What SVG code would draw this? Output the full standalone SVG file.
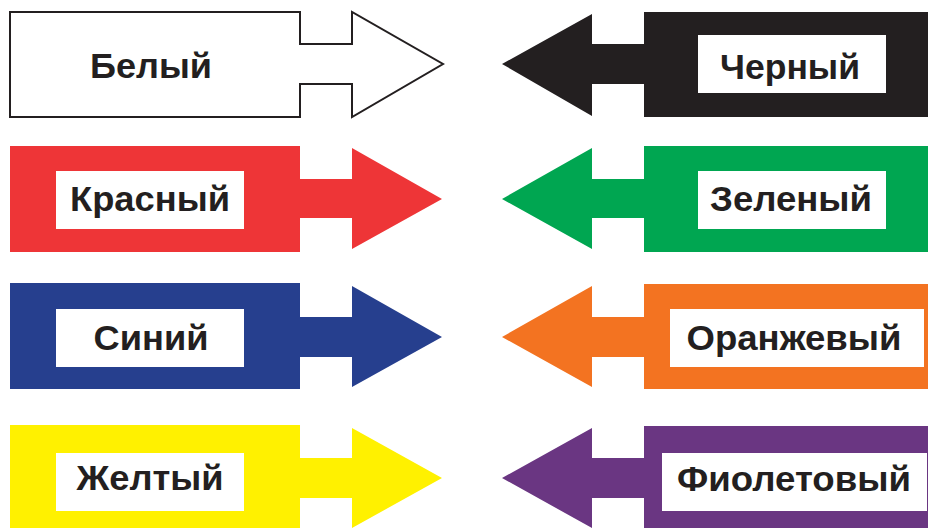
<svg xmlns="http://www.w3.org/2000/svg" width="929" height="528" viewBox="0 0 929 528">
<style>
.lbl{font-family:"Liberation Sans",Arial,sans-serif;font-weight:bold;font-size:35px;fill:#231F20;text-anchor:middle}
.box{fill:#FFFFFF}
</style>
<rect width="929" height="528" fill="#FFFFFF"/>
<g id="white">
<polygon points="10,12 300,12 300,44 352,44 352,12 443,64 352,117 352,84 300,84 300,117 10,117" fill="#FFFFFF" stroke="#231F20" stroke-width="2"/>
<text class="lbl" x="151" y="78" textLength="122" lengthAdjust="spacingAndGlyphs">Белый</text>
</g>
<g id="red">
<polygon points="10,146 300,146 300,179 352,179 352,148 442,199 352,249 352,218 300,218 300,252 10,252" fill="#EE3537"/>
<rect class="box" x="56" y="171" width="188" height="58"/>
<text class="lbl" x="150" y="211" textLength="160" lengthAdjust="spacingAndGlyphs">Красный</text>
</g>
<g id="blue">
<polygon points="10,283 300,283 300,317 352,317 352,286 442,337 352,387 352,357 300,357 300,389 10,389" fill="#263F8E"/>
<rect class="box" x="56" y="309" width="188" height="58"/>
<text class="lbl" x="151" y="350" textLength="115" lengthAdjust="spacingAndGlyphs">Синий</text>
</g>
<g id="yellow">
<polygon points="10,425 300,425 300,458 352,458 352,428 442,478 352,528 352,498 300,498 300,528 10,528" fill="#FFF100"/>
<rect class="box" x="56" y="453" width="188" height="58"/>
<text class="lbl" x="150" y="490" textLength="147" lengthAdjust="spacingAndGlyphs">Желтый</text>
</g>
<g id="black">
<polygon points="928,12 644,12 644,44 592,44 592,14 502,64 592,116 592,84 644,84 644,117 928,117" fill="#231F20"/>
<rect class="box" x="698" y="35" width="188" height="58"/>
<text class="lbl" x="790" y="79" textLength="140" lengthAdjust="spacingAndGlyphs">Черный</text>
</g>
<g id="green">
<polygon points="928,146 644,146 644,179 592,179 592,148 502,199 592,249 592,218 644,218 644,252 928,252" fill="#00A651"/>
<rect class="box" x="698" y="171" width="188" height="58"/>
<text class="lbl" x="791" y="211" textLength="162" lengthAdjust="spacingAndGlyphs">Зеленый</text>
</g>
<g id="orange">
<polygon points="928,284 644,284 644,317 592,317 592,286 502,337 592,387 592,357 644,357 644,389 928,389" fill="#F37321"/>
<rect class="box" x="670" y="309" width="254" height="58"/>
<text class="lbl" x="794" y="350" textLength="215" lengthAdjust="spacingAndGlyphs">Оранжевый</text>
</g>
<g id="purple">
<polygon points="928,426 644,426 644,458 592,458 592,428 502,478 592,528 592,498 644,498 644,528 928,528" fill="#6A3682"/>
<rect class="box" x="662" y="453" width="265" height="58"/>
<text class="lbl" x="794" y="491" textLength="234" lengthAdjust="spacingAndGlyphs">Фиолетовый</text>
</g>
<g id="connectors"></g>
</svg>
